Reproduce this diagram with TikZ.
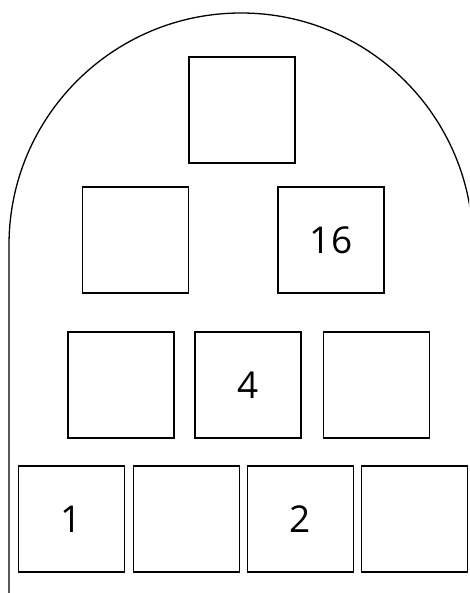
\documentclass[tikz,border=0pt]{standalone}
\usepackage{fontspec}
\setmainfont{Open Sans}
\usetikzlibrary{positioning}

\begin{document}
\begin{tikzpicture}[x=1pt,y=-1pt]
\tikzset{cell/.style={rectangle,draw,line width=1.6pt,minimum size=106pt,inner sep=0pt,font=\fontsize{37}{40}\selectfont}}
\useasboundingbox (0,0) rectangle (469,593);
\clip (0,0) rectangle (469,593);
% outline
\draw[line width=1.3pt] (9,600) -- (9,245) arc[start angle=180,end angle=360,radius=232] -- (473,600);
% top
\node[cell] (top) at (242,110) {};
% second row
\foreach \n/\x/\t in {l/135.5/, r/331/16} {
    \node[cell] (mid\n) at (\x,240) {\t};
}
% third row
\foreach \n/\x/\t in {1/121/, 2/248/4, 3/376.5/} {
    \node[cell] (low\n) at (\x,385) {\t};
}
% bottom row
\foreach \n/\x/\t in {1/71.5/1, 2/186.5/, 3/300.5/2, 4/414.5/} {
    \node[cell] (base\n) at (\x,519) {\t};
}
\end{tikzpicture}
\end{document}
